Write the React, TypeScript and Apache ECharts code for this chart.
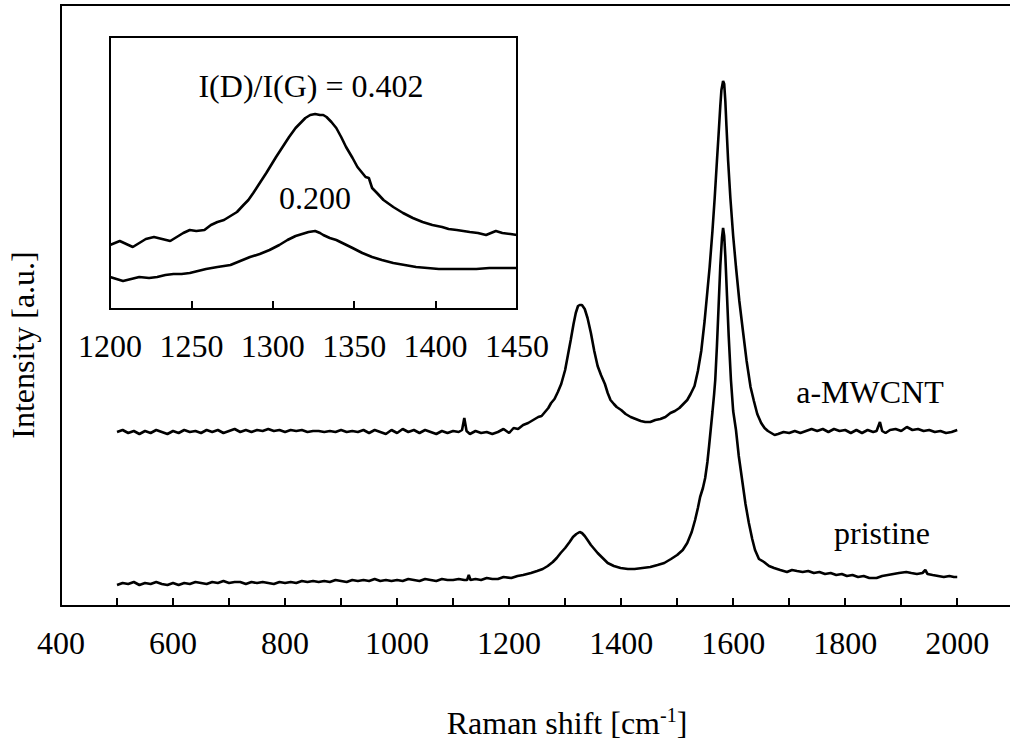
import React, { useEffect, useRef } from "react";
import * as echarts from "echarts";

// Main plot: x = Raman shift (cm-1), y = intensity (arbitrary units)
const mainTickValues = [400, 600, 800, 1000, 1200, 1400, 1600, 1800, 2000];
const insetTickValues = [1200, 1250, 1300, 1350, 1400, 1450];

const mwcntSpectrum: [number, number][] = [
  [500, 174], [510, 176], [520, 173], [530, 175], [540, 172], [550, 175], [560, 173], [570, 176], [580, 174], [590, 172],
  [600, 175], [610, 173], [620, 176], [630, 174], [640, 175], [650, 173], [660, 176], [670, 174], [680, 176], [690, 173],
  [700, 175], [710, 177], [720, 174], [730, 176], [740, 174], [750, 176], [760, 175], [770, 177], [780, 175], [790, 176],
  [800, 174], [810, 176], [820, 175], [830, 176], [840, 174], [850, 175], [860, 175], [870, 174], [880, 175], [890, 174],
  [900, 176], [910, 174], [920, 175], [930, 174], [940, 176], [950, 173], [960, 176], [970, 174], [980, 172], [990, 176],
  [1000, 173], [1010, 177], [1020, 174], [1030, 176], [1040, 173], [1050, 176], [1060, 174], [1070, 172], [1080, 175], [1090, 173],
  [1100, 175], [1110, 174], [1116, 176], [1120, 188], [1124, 175], [1130, 172], [1140, 175], [1150, 173], [1160, 174], [1170, 172],
  [1180, 174], [1190, 177], [1200, 173], [1208, 178], [1216, 177], [1225, 181], [1234, 183], [1243, 186], [1252, 189], [1258, 190],
  [1264, 194], [1270, 198], [1275, 203], [1281, 207], [1287, 214], [1293, 222], [1300, 236], [1305, 251], [1310, 266], [1315, 282],
  [1319, 293], [1323, 300], [1326, 301], [1330, 301], [1335, 297], [1340, 288], [1346, 273], [1352, 255], [1358, 240], [1364, 231],
  [1371, 222], [1376, 213], [1381, 206], [1387, 202], [1392, 199], [1400, 196], [1408, 192], [1417, 189], [1426, 187], [1435, 185],
  [1443, 184], [1452, 184], [1461, 186], [1470, 187], [1479, 189], [1488, 193], [1496, 195], [1504, 198], [1511, 202], [1518, 206],
  [1524, 212], [1531, 220], [1537, 235], [1543, 255], [1549, 285], [1554, 315], [1558, 339], [1563, 375], [1567, 408], [1571, 445],
  [1574, 472], [1577, 500], [1579, 516], [1582, 525], [1584, 522], [1586, 505], [1588, 480], [1591, 445], [1595, 408], [1600, 370],
  [1605, 339], [1611, 305], [1617, 277], [1624, 245], [1631, 219], [1637, 205], [1643, 192], [1650, 183], [1656, 178], [1662, 175],
  [1668, 173], [1674, 171], [1680, 172], [1690, 174], [1700, 173], [1710, 175], [1720, 173], [1730, 175], [1740, 177], [1750, 175],
  [1760, 177], [1770, 174], [1780, 177], [1790, 175], [1800, 176], [1810, 173], [1820, 176], [1830, 173], [1840, 176], [1850, 174],
  [1856, 175], [1862, 184], [1866, 175], [1872, 173], [1880, 176], [1890, 177], [1900, 175], [1910, 179], [1920, 176], [1930, 177],
  [1940, 175], [1950, 176], [1960, 174], [1970, 175], [1980, 173], [1990, 174], [2000, 176],
];

const pristineSpectrum: [number, number][] = [
  [500, 21], [510, 23], [520, 22], [530, 24], [540, 21], [550, 23], [560, 22], [570, 24], [580, 22], [590, 21],
  [600, 23], [610, 21], [620, 23], [630, 22], [640, 24], [650, 23], [660, 22], [670, 24], [680, 23], [690, 25],
  [700, 23], [710, 24], [720, 24], [730, 22], [740, 24], [750, 23], [760, 24], [770, 23], [780, 22], [790, 24],
  [800, 23], [810, 24], [820, 23], [830, 25], [840, 24], [850, 25], [860, 24], [870, 25], [880, 24], [890, 26],
  [900, 25], [910, 24], [920, 26], [930, 25], [940, 26], [950, 25], [960, 27], [970, 25], [980, 26], [990, 25],
  [1000, 26], [1010, 25], [1020, 27], [1030, 26], [1040, 25], [1050, 27], [1060, 26], [1070, 25], [1080, 27], [1090, 26],
  [1100, 26], [1110, 27], [1120, 26], [1125, 26], [1128, 31], [1131, 26], [1140, 27], [1150, 26], [1160, 28], [1170, 27],
  [1180, 27], [1190, 29], [1204, 28], [1215, 30], [1225, 31], [1239, 33], [1250, 35], [1260, 37], [1269, 40], [1278, 44],
  [1285, 48], [1292, 53], [1300, 58], [1308, 64], [1314, 69], [1320, 72], [1326, 74], [1330, 73], [1335, 70], [1340, 66],
  [1346, 61], [1352, 57], [1358, 53], [1367, 48], [1376, 43], [1387, 40], [1399, 38], [1412, 37], [1424, 37], [1438, 38],
  [1452, 39], [1465, 41], [1477, 43], [1489, 47], [1500, 51], [1510, 56], [1518, 63], [1526, 74], [1532, 86], [1537, 98],
  [1541, 109], [1546, 118], [1550, 128], [1554, 144], [1557, 160], [1560, 177], [1563, 194], [1566, 212], [1568, 226], [1571, 260],
  [1574, 300], [1577, 340], [1580, 368], [1582, 378], [1584, 370], [1586, 350], [1589, 310], [1592, 270], [1596, 226], [1600, 195],
  [1605, 176], [1610, 150], [1616, 126], [1622, 102], [1628, 83], [1634, 67], [1639, 56], [1646, 47], [1655, 44], [1664, 40],
  [1673, 38], [1684, 36], [1696, 34], [1705, 36], [1714, 35], [1724, 34], [1734, 35], [1744, 33], [1754, 34], [1764, 32],
  [1774, 33], [1784, 31], [1794, 32], [1803, 30], [1813, 31], [1823, 29], [1833, 30], [1843, 28], [1856, 28], [1866, 30],
  [1876, 31], [1886, 32], [1896, 33], [1909, 34], [1918, 33], [1928, 32], [1938, 33], [1943, 36], [1947, 32], [1956, 31],
  [1966, 30], [1976, 29], [1986, 30], [1994, 29], [2000, 29],
];

// Inset: D band region, zoomed
const mwcntInset: [number, number][] = [
  [1200, 64], [1203, 66], [1206, 68], [1210, 65], [1214, 62], [1218, 66], [1222, 70], [1227, 72], [1232, 70], [1237, 68],
  [1241, 72], [1245, 76], [1249, 79], [1253, 78], [1258, 79], [1262, 84], [1266, 87], [1270, 89], [1274, 93], [1278, 97],
  [1282, 104], [1285, 109], [1288, 116], [1292, 126], [1296, 136], [1299, 144], [1302, 152], [1306, 162], [1310, 172], [1314, 181],
  [1317, 186], [1320, 191], [1323, 194], [1326, 195], [1329, 194], [1331, 194], [1333, 192], [1336, 187], [1339, 181], [1342, 172],
  [1345, 162], [1349, 151], [1352, 142], [1355, 136], [1357, 132], [1359, 131], [1361, 121], [1364, 116], [1368, 109], [1374, 102],
  [1380, 96], [1386, 91], [1392, 87], [1398, 84], [1404, 82], [1408, 80], [1413, 79], [1417, 78], [1421, 77], [1426, 76],
  [1431, 74], [1434, 76], [1437, 78], [1441, 76], [1446, 75], [1450, 74],
];

const pristineInset: [number, number][] = [
  [1200, 32], [1204, 30], [1208, 28], [1213, 30], [1218, 32], [1224, 31], [1229, 32], [1234, 34], [1239, 35], [1244, 35],
  [1249, 36], [1254, 38], [1259, 40], [1266, 42], [1274, 44], [1280, 48], [1286, 52], [1292, 55], [1298, 59], [1304, 64],
  [1309, 69], [1314, 73], [1318, 75], [1322, 77], [1326, 78], [1329, 76], [1331, 74], [1335, 71], [1339, 69], [1344, 65],
  [1349, 61], [1355, 56], [1361, 52], [1367, 49], [1374, 46], [1381, 44], [1388, 42], [1395, 41], [1402, 40], [1410, 40],
  [1417, 40], [1425, 40], [1433, 41], [1441, 41], [1450, 41],
];

const seriesNames = ["a-MWCNT", "pristine"];
const ratioLabels = ["I(D)/I(G) = 0.402", "0.200"];
const xAxisTitle = "Raman shift [cm";
const yAxisTitle = "Intensity [a.u.]";

const FONT = "Liberation Serif";

export default function App() {
  const ref = useRef<HTMLDivElement>(null);

  useEffect(() => {
    if (!ref.current) return;
    const chart = echarts.init(ref.current, undefined, { renderer: "svg" });
    const lineStyle = { color: "#000", width: 2.6 };
    const txt = (text: string, x: number, y: number, extra: any = {}) => ({
      type: "text",
      x,
      y,
      silent: true,
      ...extra,
      style: {
        text,
        fill: "#000",
        fontSize: 32,
        fontFamily: FONT,
        align: "center",
        verticalAlign: "middle",
        textAlign: "center",
        textVerticalAlign: "middle",
        ...(extra.style || {}),
      },
    });

    chart.setOption({
      animation: false,
      backgroundColor: "#fff",
      textStyle: { fontFamily: FONT, color: "#000" },
      grid: [
        { left: 61, top: 5, width: 953, bottom: 136, containLabel: false, show: false },
        {
          left: 110, top: 37, width: 407, height: 272,
          show: true, borderColor: "#000", borderWidth: 2, backgroundColor: "#fff", z: 5,
        },
      ],
      xAxis: [
        {
          type: "value", gridIndex: 0, min: 400, max: 2094.2, interval: 100,
          axisLine: { show: true, onZero: false, lineStyle: { color: "#000", width: 2 } },
          axisTick: { show: true, inside: true, length: 8, lineStyle: { color: "#000", width: 2 } },
          axisLabel: {
            show: true, margin: 21, fontSize: 32, fontFamily: FONT, color: "#000",
            showMaxLabel: false,
            formatter: (v: number) => (mainTickValues.includes(v) ? String(v) : ""),
          },
          splitLine: { show: false },
          splitArea: { show: false },
        },
        {
          type: "value", gridIndex: 1, min: 1200, max: 1450, interval: 50,
          axisLine: { show: true, onZero: false, lineStyle: { color: "#000", width: 2 } },
          axisTick: { show: true, inside: true, length: 8, lineStyle: { color: "#000", width: 2 } },
          axisLabel: {
            show: true, margin: 21, fontSize: 32, fontFamily: FONT, color: "#000",
            showMinLabel: true, showMaxLabel: true,
            formatter: (v: number) => (insetTickValues.includes(v) ? String(v) : ""),
          },
          splitLine: { show: false },
          z: 6,
        },
      ],
      yAxis: [
        {
          type: "value", gridIndex: 0, min: 0, max: 601,
          axisLine: { show: true, onZero: false, lineStyle: { color: "#000", width: 2 } },
          axisTick: { show: false }, axisLabel: { show: false }, splitLine: { show: false },
        },
        {
          type: "value", gridIndex: 1, min: 0, max: 272,
          axisLine: { show: false }, axisTick: { show: false }, axisLabel: { show: false }, splitLine: { show: false },
        },
      ],
      series: [
        { name: seriesNames[0], type: "line", xAxisIndex: 0, yAxisIndex: 0, data: mwcntSpectrum, showSymbol: false, lineStyle, silent: true },
        { name: seriesNames[1], type: "line", xAxisIndex: 0, yAxisIndex: 0, data: pristineSpectrum, showSymbol: false, lineStyle, silent: true },
        { name: seriesNames[0] + " inset", type: "line", xAxisIndex: 1, yAxisIndex: 1, data: mwcntInset, showSymbol: false, lineStyle, silent: true, z: 7 },
        { name: seriesNames[1] + " inset", type: "line", xAxisIndex: 1, yAxisIndex: 1, data: pristineInset, showSymbol: false, lineStyle, silent: true, z: 7 },
      ],
      graphic: [
        // white strip masking a stray frame edge at the far right of the plot area
        {
          type: "rect", silent: true, z: 1000,
          shape: { x: 990, y: 7, width: 20, height: 597 },
          style: { fill: "#fff" },
        },
        {
          type: "line", silent: true, z: 1001,
          shape: { x1: 60, y1: 5, x2: 1010, y2: 5 },
          style: { stroke: "#000", lineWidth: 2 },
        },
        txt(ratioLabels[0], 311, 86, { z: 100 }),
        txt(ratioLabels[1], 315, 198, { z: 100 }),
        txt(seriesNames[0], 870, 392),
        txt(seriesNames[1], 882, 533),
        txt(yAxisTitle, 23, 345, { rotation: Math.PI / 2 }),
        txt(`{a|${xAxisTitle}}{sup|-1}{a|]}`, 567, 723, {
          style: {
            rich: {
              a: { fontSize: 32, fontFamily: FONT, fill: "#000", lineHeight: 36 },
              sup: { fontSize: 20, fontFamily: FONT, fill: "#000", verticalAlign: "top", lineHeight: 24 },
            },
          },
        }),
      ],
    });

    return () => chart.dispose();
  }, []);

  return (
    <div
      ref={ref}
      style={{ position: "fixed", left: 0, top: 0, width: 1010, height: 742 }}
    />
  );
}
